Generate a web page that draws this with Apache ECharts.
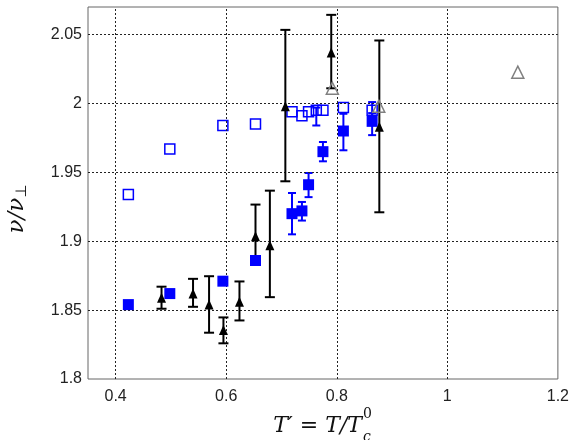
<!DOCTYPE html>
<html>
<head>
<meta charset="utf-8">
<script src="https://cdn.jsdelivr.net/npm/echarts@6/dist/echarts.min.js"></script>
<style>
  html, body { margin: 0; padding: 0; background: #fff; }
  #chart { width: 572px; height: 440px; }
</style>
</head>
<body>
<div id="chart"></div>
<script>
// tick labels
const xTicks = [0.4, 0.6, 0.8, 1, 1.2];
const yTicks = [1.8, 1.85, 1.9, 1.95, 2, 2.05];
const xGrid = [0.4, 0.6, 0.8, 1];
const yGrid = [1.85, 1.9, 1.95, 2, 2.05];

// filled blue squares [x, y]
const filledSquares = [
  [0.423, 1.854], [0.498, 1.862], [0.594, 1.871], [0.653, 1.886],
  [0.719, 1.920], [0.737, 1.922], [0.749, 1.941], [0.775, 1.965],
  [0.812, 1.980], [0.864, 1.987]
];
// error bars of filled squares [x, low, high]
const filledSquareErr = [
  [0.719, 1.905, 1.935], [0.737, 1.915, 1.9285], [0.749, 1.932, 1.9495],
  [0.775, 1.958, 1.972], [0.812, 1.966, 1.9925], [0.864, 1.977, 1.993]
];

// open blue squares [x, y]
const openSquares = [
  [0.423, 1.934], [0.498, 1.967], [0.594, 1.984], [0.653, 1.985],
  [0.719, 1.994], [0.737, 1.991], [0.749, 1.994], [0.763, 1.995],
  [0.775, 1.995], [0.812, 1.997], [0.864, 1.995]
];
const openSquareErr = [
  [0.763, 1.984, 1.997], [0.864, 1.990, 2.001]
];

// filled black triangles [x, y] and errors [x, low, high]
const triangles = [
  [0.483, 1.859], [0.540, 1.862], [0.569, 1.854], [0.595, 1.8355],
  [0.624, 1.856], [0.653, 1.9036], [0.679, 1.897], [0.707, 1.998],
  [0.790, 2.037], [0.877, 1.983]
];
const triangleErr = [
  [0.483, 1.851, 1.867], [0.540, 1.8524, 1.8727], [0.569, 1.8336, 1.8746],
  [0.595, 1.8259, 1.8447], [0.624, 1.8425, 1.8708], [0.653, 1.884, 1.9266],
  [0.679, 1.8594, 1.9367], [0.707, 1.9435, 2.0534], [0.790, 2.011, 2.0643],
  [0.877, 1.921, 2.0457]
];

// open gray triangles
const openTriangles = [
  [0.792, 2.011], [0.876, 1.998], [1.1275, 2.0227]
];

const BLUE = '#0000ff';

function errBars(data, color, cap, z) {
  return {
    type: 'custom',
    z: z,
    silent: true,
    data: data,
    renderItem: function (params, api) {
      let x = api.value(0);
      let top = api.coord([x, api.value(2)]);
      let bot = api.coord([x, api.value(1)]);
      let st = { stroke: color, lineWidth: 2 };
      return {
        type: 'group',
        children: [
          { type: 'line', shape: { x1: top[0], y1: top[1], x2: bot[0], y2: bot[1] }, style: st },
          { type: 'line', shape: { x1: top[0] - cap, y1: top[1], x2: top[0] + cap, y2: top[1] }, style: st },
          { type: 'line', shape: { x1: bot[0] - cap, y1: bot[1], x2: bot[0] + cap, y2: bot[1] }, style: st }
        ]
      };
    }
  };
}

const chart = echarts.init(document.getElementById('chart'));

const fmt = v => String(parseFloat(Number(v).toFixed(2)));
const gridStyle = { color: '#222', type: [2, 2], width: 1 };

chart.setOption({
  animation: false,
  grid: {
    left: 88, right: 10, top: 7, bottom: 61,
    show: true, borderColor: '#666', borderWidth: 1, backgroundColor: '#fff'
  },
  xAxis: {
    type: 'value', min: 0.35, max: 1.2,
    axisLine: { show: false },
    axisTick: { show: false },
    splitLine: { show: false },
    axisLabel: {
      customValues: xTicks, formatter: fmt, margin: 10,
      fontFamily: 'Liberation Sans', fontSize: 16, color: '#222'
    }
  },
  yAxis: {
    type: 'value', min: 1.8, max: 2.07,
    axisLine: { show: false },
    axisTick: { show: false },
    splitLine: { show: false },
    axisLabel: {
      customValues: yTicks, formatter: fmt, margin: 6,
      fontFamily: 'Liberation Sans', fontSize: 16, color: '#222'
    }
  },
  graphic: [
    {
      type: 'text', x: 362, y: 426,
      style: { text: 'T′ = T/T', font: 'italic 22px "DejaVu Serif"', fill: '#111',
        align: 'right', verticalAlign: 'middle' }
    },
    {
      type: 'text', x: 363, y: 414,
      style: { text: '0', font: '14px "DejaVu Serif"', fill: '#111',
        align: 'left', verticalAlign: 'middle' }
    },
    {
      type: 'text', x: 363, y: 437,
      style: { text: 'c', font: 'italic 14px "DejaVu Serif"', fill: '#111',
        align: 'left', verticalAlign: 'middle' }
    },
    {
      type: 'text', x: 17, y: 209, rotation: Math.PI / 2,
      style: {
        text: '{a|ν/ν}{b|⊥}', align: 'center', verticalAlign: 'middle',
        rich: {
          a: { font: 'italic 23px "DejaVu Serif"', fill: '#111', lineHeight: 26 },
          b: { font: '15px "DejaVu Sans"', fill: '#111', verticalAlign: 'bottom', lineHeight: 26, padding: [8, 0, 0, 0] }
        }
      }
    }
  ],
  series: [
    {
      type: 'scatter', data: [], z: 1, silent: true,
      markLine: {
        silent: true, symbol: 'none', animation: false,
        label: { show: false },
        lineStyle: gridStyle,
        data: xGrid.map(v => ({ xAxis: v })).concat(yGrid.map(v => ({ yAxis: v })))
      }
    },
    {
      type: 'scatter', data: openSquares, symbol: 'rect', symbolSize: 10, z: 3,
      itemStyle: { color: 'rgba(255,255,255,0)', borderColor: BLUE, borderWidth: 1.5, opacity: 1 }
    },
    errBars(openSquareErr, BLUE, 4, 4),
    errBars(filledSquareErr, BLUE, 4, 4),
    {
      type: 'scatter', data: openTriangles, symbol: 'triangle', symbolSize: [12, 12], z: 5,
      itemStyle: { color: 'rgba(255,255,255,0)', borderColor: '#808080', borderWidth: 1.5, opacity: 1 }
    },
    errBars(triangleErr, '#000', 5, 5),
    {
      type: 'scatter', data: filledSquares, symbol: 'rect', symbolSize: 11, z: 6,
      itemStyle: { color: BLUE, opacity: 1 }
    },
    {
      type: 'scatter', data: triangles, symbol: 'triangle', symbolSize: [9, 10], z: 7,
      itemStyle: { color: '#000', opacity: 1 }
    }
  ]
});
</script>
</body>
</html>
